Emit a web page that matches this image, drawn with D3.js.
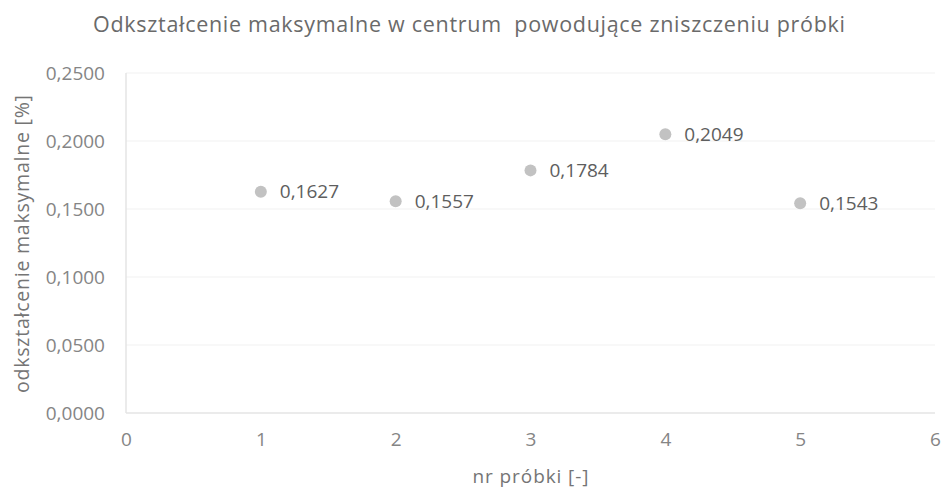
<!DOCTYPE html>
<html><head><meta charset="utf-8">
<script src="https://cdn.jsdelivr.net/npm/d3@7"></script>
<style>body{margin:0;background:#fff}</style>
</head><body>
<svg id="c" width="944" height="490"></svg>
<script>
const samples = [1, 2, 3, 4, 5];
const strainValues = [0.1627, 0.1557, 0.1784, 0.2049, 0.1543];
const xTicks = [0, 1, 2, 3, 4, 5, 6];
const yTicks = [0, 0.05, 0.10, 0.15, 0.20, 0.25];
const title = "Odkształcenie maksymalne w centrum  powodujące zniszczeniu próbki";
const xTitle = "nr próbki [-]";
const yTitle = "odkształcenie maksymalne [%]";

const svg = d3.select("#c");
const font = "'Open Sans', sans-serif";
const m = {l: 126, r: 935, t: 73, b: 413};
const x = d3.scaleLinear().domain([0, 6]).range([m.l, m.r]);
const y = d3.scaleLinear().domain([0, 0.25]).range([m.b, m.t]);
const fmt = v => d3.format(".4f")(v).replace(".", ",");

svg.append("g").selectAll("line").data(yTicks.slice(1)).join("line")
  .attr("x1", m.l).attr("x2", m.r).attr("y1", d => y(d)).attr("y2", d => y(d))
  .attr("stroke", "#f1f1f1").attr("stroke-width", 1);
svg.append("line").attr("x1", m.l).attr("x2", m.l).attr("y1", m.t).attr("y2", m.b).attr("stroke", "#e4e4e4").attr("stroke-width", 1.5);
svg.append("line").attr("x1", m.l).attr("x2", m.r).attr("y1", m.b).attr("y2", m.b).attr("stroke", "#e4e4e4").attr("stroke-width", 1.5);

const yAxis = svg.append("g").attr("transform", `translate(${m.l},0)`)
  .call(d3.axisLeft(y).tickValues(yTicks).tickFormat(fmt).tickSize(0).tickPadding(21));
yAxis.select(".domain").remove();
yAxis.selectAll("text").attr("font-family", font).attr("font-size", 19).attr("fill", "#858585");

const xAxis = svg.append("g").attr("transform", `translate(0,${m.b})`)
  .call(d3.axisBottom(x).tickValues(xTicks).tickFormat(d3.format("d")).tickSize(0).tickPadding(20));
xAxis.select(".domain").remove();
xAxis.selectAll("text").attr("font-family", font).attr("font-size", 19).attr("fill", "#858585");

svg.append("g").selectAll("circle").data(samples).join("circle")
  .attr("cx", d => x(d)).attr("cy", (d, i) => y(strainValues[i])).attr("r", 6)
  .attr("fill", "#c2c2c2");
svg.append("g").selectAll("text").data(samples).join("text")
  .attr("x", d => x(d) + 19).attr("y", (d, i) => y(strainValues[i]) + 6.5)
  .attr("font-family", font).attr("font-size", 19).attr("fill", "#5e5e5e")
  .text((d, i) => fmt(strainValues[i]));

svg.append("text").attr("x", 469).attr("y", 32).attr("text-anchor", "middle")
  .attr("font-family", font).attr("font-size", 21.5).attr("fill", "#6a6a6a")
  .attr("textLength", 752).attr("lengthAdjust", "spacing")
  .style("white-space", "pre").text(title);
svg.append("text").attr("x", (m.l + m.r) / 2).attr("y", 483).attr("text-anchor", "middle")
  .attr("font-family", font).attr("font-size", 19).attr("fill", "#757575")
  .attr("textLength", 116).attr("lengthAdjust", "spacing").text(xTitle);
svg.append("text").attr("transform", `translate(29,244) rotate(-90)`).attr("text-anchor", "middle")
  .attr("font-family", font).attr("font-size", 19.5).attr("fill", "#757575")
  .attr("textLength", 298).attr("lengthAdjust", "spacing").text(yTitle);
</script>
</body></html>
